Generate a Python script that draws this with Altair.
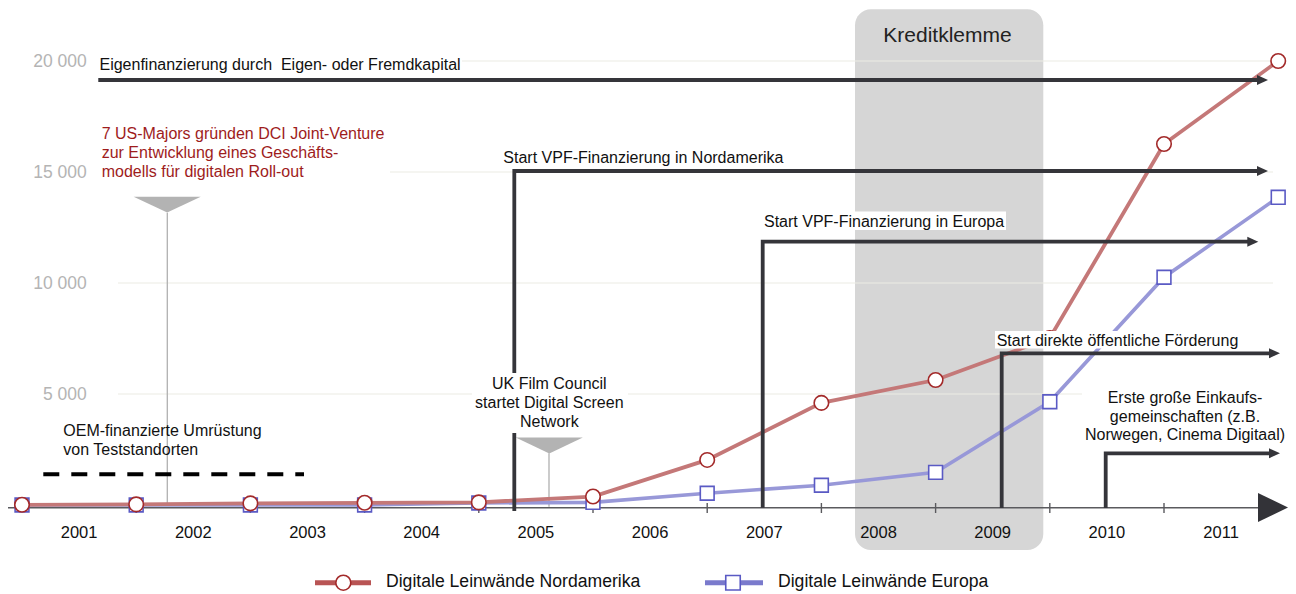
import altair as alt
import pandas as pd

FONT = "Liberation Sans"

# ---------------- data ----------------
# data points sit on the year boundaries (start of each year)
point_pos = [2001, 2002, 2003, 2004, 2005, 2006, 2007, 2008, 2009, 2010, 2011, 2012]
nordamerika = [10, 30, 75, 100, 120, 380, 2030, 4600, 5630, 7520, 16260, 20000]
europa = [0, 0, 0, 0, 90, 120, 530, 890, 1470, 4650, 10260, 13860]

year_labels = ["2001", "2002", "2003", "2004", "2005", "2006",
               "2007", "2008", "2009", "2010", "2011"]
y_ticks = [5000, 10000, 15000, 20000]
y_tick_labels = ["5 000", "10 000", "15 000", "20 000"]

series_names = ["Digitale Leinwände Nordamerika", "Digitale Leinwände Europa"]

# ---------------- scales ----------------
W, H = 1280, 586
XDOM = [2000.8774, 2012.0858]
YDOM = [-4009, 22387]


def X(f="x"):
    return alt.X(f"{f}:Q", scale=alt.Scale(domain=XDOM, nice=False, zero=False), axis=None)


def Y(f="y"):
    return alt.Y(f"{f}:Q", scale=alt.Scale(domain=YDOM, nice=False, zero=False), axis=None)


layers = []

# Kreditklemme band
band = pd.DataFrame([{"x": 2008.2942, "x2": 2009.943, "y": 22329, "y2": -2027}])
layers.append(alt.Chart(band).mark_rect(color="#d6d6d6", cornerRadius=16).encode(
    x=X(), x2="x2:Q", y=Y(), y2="y2:Q"))

# gridlines
grid = pd.DataFrame({"y": y_ticks, "x": [2001.8406] * 4, "x2": [2011.9545] * 4})
layers.append(alt.Chart(grid).mark_rule(color="#ecece4", strokeWidth=1.2).encode(
    x=X(), x2="x2:Q", y=Y()))

# x axis line, ticks, arrow
axis_line = pd.DataFrame([{"x": 2000.8774, "x2": 2011.858, "y": -122}])
layers.append(alt.Chart(axis_line).mark_rule(color="#5a5a5e", strokeWidth=1.6).encode(
    x=X(), x2="x2:Q", y=Y()))
ticks = pd.DataFrame({"x": point_pos[1:11], "y": [90] * 10, "y2": [-360] * 10})
layers.append(alt.Chart(ticks).mark_rule(color="#5a5a5e", strokeWidth=1.4).encode(
    x=X(), y=Y(), y2="y2:Q"))
axis_arrow = pd.DataFrame([{"x": 2011.9545, "y": -113}])
layers.append(alt.Chart(axis_arrow).mark_point(
    shape="M-1,-0.967L1,0L-1,0.967Z", size=900, filled=True, color="#333338",
    opacity=1).encode(x=X(), y=Y()))

# thin grey marker lines and triangles
marker_lines = pd.DataFrame({"x": [2002.2723, 2005.6147], "y": [13166, 2329], "y2": [0, -77]})
layers.append(alt.Chart(marker_lines).mark_rule(color="#b0b0b0", strokeWidth=1.3).encode(
    x=X(), y=Y(), y2="y2:Q"))
tris = pd.DataFrame({"x": [2002.2714, 2005.6173], "y": [13527, 2680]})
layers.append(alt.Chart(tris).mark_point(
    shape="M-1,-0.236L1,-0.236L0,0.236Z", size=4500, filled=True, color="#b3b3b3",
    opacity=1).encode(x=X(), y=Y()))

# dashed OEM line
dash = pd.DataFrame([{"x": 2001.1865, "x2": 2003.4694, "y": 1383}])
layers.append(alt.Chart(dash).mark_rule(color="#000000", strokeWidth=4, strokeDash=[16, 12]).encode(
    x=X(), x2="x2:Q", y=Y()))

# data series
df_eu = pd.DataFrame({"x": point_pos, "y": europa, "s": series_names[1]})
df_na = pd.DataFrame({"x": point_pos, "y": nordamerika, "s": series_names[0]})
layers.append(alt.Chart(df_eu).mark_line(color="#9898d8", strokeWidth=3.6).encode(x=X(), y=Y()))
layers.append(alt.Chart(df_eu).mark_point(
    shape="square", size=190, filled=True, fill="white", stroke="#5a5ac4", strokeWidth=1.6,
    opacity=1).encode(x=X(), y=Y()))
layers.append(alt.Chart(df_na).mark_line(color="#c47878", strokeWidth=3.8).encode(x=X(), y=Y()))
layers.append(alt.Chart(df_na).mark_point(
    shape="circle", size=210, filled=True, fill="white", stroke="#a32a2a", strokeWidth=1.6,
    opacity=1).encode(x=X(), y=Y()))

# annotation arrows
arrow_pts = [
    ("eig", [(2001.668, 19144), (2011.8625, 19144)]),
    ("nord", [(2005.3109, -270), (2005.3109, 15045), (2011.8625, 15045)]),
    ("eur", [(2007.486, -122), (2007.486, 11860), (2011.7776, 11860)]),
    ("foe", [(2009.5788, -135), (2009.5788, 6833), (2011.9676, 6833)]),
    ("ein", [(2010.4895, -135), (2010.4895, 2329), (2011.9676, 2329)]),
]
rows = []
for aid, pts in arrow_pts:
    for i, (xx, yy) in enumerate(pts):
        rows.append({"id": aid, "o": i, "x": xx, "y": yy})
arr_df = pd.DataFrame(rows)
layers.append(alt.Chart(arr_df).mark_line(
    color="#35353a", strokeWidth=3.8, strokeJoin="miter", strokeCap="butt").encode(
    x=X(), y=Y(), detail="id:N", order="o:Q"))
heads = pd.DataFrame([{"x": pts[-1][0], "y": pts[-1][1]} for _, pts in arrow_pts])
layers.append(alt.Chart(heads).mark_point(
    shape="M-1,-0.9L1,0L-1,0.9Z", size=121, filled=True, color="#35353a", opacity=1).encode(
    x=X(), y=Y()))

# white text backgrounds
boxes = pd.DataFrame([
    {"x": 2001.6567, "x2": 2004.8529, "y": 20270, "y2": 19459},
    {"x": 2001.6743, "x2": 2004.2224, "y": 17342, "y2": 14505},
    {"x": 2004.9405, "x2": 2006.3065, "y": 5946, "y2": 3243},
    {"x": 2007.4623, "x2": 2009.6165, "y": 13221, "y2": 12387},
    {"x": 2009.5201, "x2": 2011.6655, "y": 7838, "y2": 7050},
    {"x": 2010.2820, "x2": 2012.0800, "y": 5495, "y2": 2703},
])
layers.append(alt.Chart(boxes).mark_rect(color="white").encode(
    x=X(), x2="x2:Q", y=Y(), y2="y2:Q"))

# texts
left_texts = pd.DataFrame([
    {"x": 2001.6786, "y": 19595, "t": "Eigenfinanzierung durch \u00a0Eigen- oder Fremdkapital"},
    {"x": 2005.2145, "y": 15419, "t": "Start VPF-Finanzierung in Nordamerika"},
    {"x": 2007.4974, "y": 12509, "t": "Start VPF-Finanzierung in Europa"},
    {"x": 2009.5350, "y": 7162, "t": "Start direkte öffentliche Förderung"},
    {"x": 2001.3617, "y": 3108, "t": "OEM-finanzierte Umrüstung"},
    {"x": 2001.3617, "y": 2252, "t": "von Teststandorten"},
])
layers.append(alt.Chart(left_texts).mark_text(
    align="left", baseline="alphabetic", font=FONT, fontSize=16, color="#111111").encode(
    x=X(), y=Y(), text="t:N"))

red_texts = pd.DataFrame([
    {"x": 2001.6979, "y": 16486, "t": "7 US-Majors gründen DCI Joint-Venture"},
    {"x": 2001.6979, "y": 15617, "t": "zur Entwicklung eines Geschäfts-"},
    {"x": 2001.6979, "y": 14761, "t": "modells für digitalen Roll-out"},
])
layers.append(alt.Chart(red_texts).mark_text(
    align="left", baseline="alphabetic", font=FONT, fontSize=16, color="#9e1c1c").encode(
    x=X(), y=Y(), text="t:N"))

center_texts = pd.DataFrame([
    {"x": 2005.6173, "y": 5212, "t": "UK Film Council"},
    {"x": 2005.6173, "y": 4356, "t": "startet Digital Screen"},
    {"x": 2005.6173, "y": 3527, "t": "Network"},
    {"x": 2011.1839, "y": 4581, "t": "Erste große Einkaufs-"},
    {"x": 2011.1839, "y": 3752, "t": "gemeinschaften (z.B."},
    {"x": 2011.1839, "y": 2928, "t": "Norwegen, Cinema Digitaal)"},
])
layers.append(alt.Chart(center_texts).mark_text(
    align="center", baseline="alphabetic", font=FONT, fontSize=16, color="#111111").encode(
    x=X(), y=Y(), text="t:N"))

kk = pd.DataFrame([{"x": 2009.1042, "y": 20869, "t": "Kreditklemme"}])
layers.append(alt.Chart(kk).mark_text(
    align="center", baseline="alphabetic", font=FONT, fontSize=21, color="#222222").encode(
    x=X(), y=Y(), text="t:N"))

# year labels (centered in each year)
yl = pd.DataFrame({"x": [int(s) + 0.5 for s in year_labels], "y": [-1500] * len(year_labels),
                   "t": year_labels})
layers.append(alt.Chart(yl).mark_text(
    align="center", baseline="alphabetic", font=FONT, fontSize=16.5, color="#111111").encode(
    x=X(), y=Y(), text="t:N"))

# y labels
ylab = pd.DataFrame({"x": [2001.5666] * 4, "y": y_ticks, "t": y_tick_labels})
layers.append(alt.Chart(ylab).mark_text(
    align="right", baseline="middle", font=FONT, fontSize=17.5, color="#b4b4b4", dy=1).encode(
    x=X(), y=Y(), text="t:N"))

# legend
leg_lines = pd.DataFrame([
    {"x": 2003.5657, "x2": 2004.0560, "y": -3500, "s": series_names[0]},
    {"x": 2006.9807, "x2": 2007.4886, "y": -3500, "s": series_names[1]},
])
layers.append(alt.Chart(leg_lines).mark_rule(strokeWidth=5).encode(
    x=X(), x2="x2:Q", y=Y(),
    color=alt.Color("s:N", scale=alt.Scale(domain=series_names, range=["#b85454", "#7a7acc"]),
                    legend=None)))
leg_c = pd.DataFrame([{"x": 2003.8135, "y": -3500}])
layers.append(alt.Chart(leg_c).mark_point(
    shape="circle", size=225, filled=True, fill="white", stroke="#a32a2a", strokeWidth=1.6,
    opacity=1).encode(x=X(), y=Y()))
leg_s = pd.DataFrame([{"x": 2007.2259, "y": -3500}])
layers.append(alt.Chart(leg_s).mark_point(
    shape="square", size=210, filled=True, fill="white", stroke="#5a5ac4", strokeWidth=1.6,
    opacity=1).encode(x=X(), y=Y()))
leg_t = pd.DataFrame([
    {"x": 2004.1874, "y": -3707, "t": series_names[0]},
    {"x": 2007.6200, "y": -3707, "t": series_names[1]},
])
layers.append(alt.Chart(leg_t).mark_text(
    align="left", baseline="alphabetic", font=FONT, fontSize=17.6, color="#111111").encode(
    x=X(), y=Y(), text="t:N"))

chart = alt.layer(*layers).properties(
    width=W, height=H, padding=0,
    autosize=alt.AutoSizeParams(type="none"),
).configure_view(stroke=None)

chart.save("out.html", embed_options={"renderer": "svg", "actions": False})
